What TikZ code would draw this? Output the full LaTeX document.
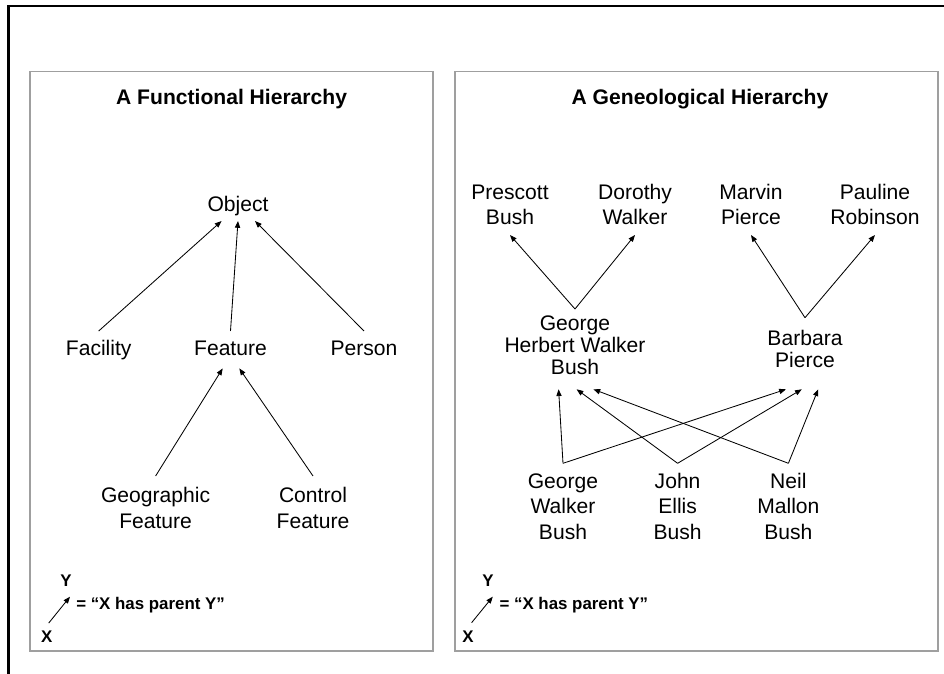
\documentclass[tikz,border=0pt]{standalone}
\usepackage{fontspec}
\setmainfont{Liberation Sans}
\usetikzlibrary{arrows.meta}

\begin{document}
\begin{tikzpicture}[
        % Estilo para los marcos de cada jerarquía
        panel/.style={draw=gray!75, line width=0.8pt},
        % Estilo para los títulos de los marcos
        heading/.style={font=\fontsize{15}{18}\selectfont\bfseries, anchor=base, inner sep=0pt},
        % Estilo para los nombres (base = línea base de la última línea)
        entity/.style={font=\fontsize{15}{18.1}\selectfont, align=center, anchor=base, inner sep=0pt},
        % Nombres con interlineado más estrecho
        tightname/.style={font=\fontsize{15}{15.6}\selectfont},
        % Estilo para las flechas "tiene padre"
        hasparent/.style={-{Triangle[length=1.7mm,width=1.3mm]}, line width=0.6pt},
        % Estilo para la leyenda
        legendtext/.style={font=\fontsize{12}{14}\selectfont\bfseries, anchor=base, inner sep=0pt}
    ]
        \useasboundingbox (0,0) rectangle (23.6,16.85);

        % --- Marco exterior (solo se ven los bordes superior e izquierdo) ---
        \draw[line width=1.6pt] (0.2125,0) -- (0.2125,16.7) -- (23.6,16.7);

        % --- Marcos de las dos jerarquías ---
        \draw[panel] (0.75,0.575) rectangle (10.825,15.0625);
        \draw[panel] (11.375,0.575) rectangle (23.45,15.0625);

        % --- Títulos ---
        \node[heading] (T1) at (5.79,14.225) {A Functional Hierarchy};
        \node[heading] (T2) at (17.5,14.225) {A Geneological Hierarchy};

        % --- Jerarquía funcional ---
        \node[entity] (obj) at (5.95,11.55) {Object};
        \node[entity] (fac) at (2.4675,7.95) {Facility};
        \node[entity] (fea) at (5.7625,7.95) {Feature};
        \node[entity] (per) at (9.1,7.95) {Person};
        \node[entity] (geo) at (3.89,3.6425) {Geographic\\Feature};
        \node[entity] (ctl) at (7.825,3.6425) {Control\\Feature};

        % Flechas hacia Object
        \draw[hasparent] ([yshift=0.625cm]fac.base) -- ([xshift=-0.41cm,yshift=-0.225cm]obj.base);
        \draw[hasparent] ([yshift=0.625cm]fea.base) -- ([yshift=-0.225cm]obj.base);
        \draw[hasparent] ([yshift=0.625cm]per.base) -- ([xshift=0.425cm,yshift=-0.225cm]obj.base);
        % Flechas hacia Feature
        \draw[hasparent] ([yshift=1.3075cm]geo.base) -- ([xshift=-0.195cm,yshift=-0.31cm]fea.base);
        \draw[hasparent] ([yshift=1.3075cm]ctl.base) -- ([xshift=0.22cm,yshift=-0.31cm]fea.base);

        % --- Jerarquía genealógica ---
        % Abuelos
        \node[entity] (pb) at (12.75,11.225) {Prescott\\Bush};
        \node[entity] (dw) at (15.875,11.225) {Dorothy\\Walker};
        \node[entity] (mp) at (18.775,11.225) {Marvin\\Pierce};
        \node[entity] (pr) at (21.875,11.225) {Pauline\\Robinson};
        % Padres
        \node[entity, tightname] (ghwb) at (14.375,7.4925) {George\\Herbert Walker\\Bush};
        \node[entity, tightname] (bp) at (20.125,7.6575) {Barbara\\Pierce};
        % Hijos
        \node[entity] (gwb) at (14.075,3.3675) {George\\Walker\\Bush};
        \node[entity] (jeb) at (16.94,3.3675) {John\\Ellis\\Bush};
        \node[entity] (nmb) at (19.71,3.3675) {Neil\\Mallon\\Bush};

        % Flechas hacia los abuelos
        \draw[hasparent] ([yshift=1.6325cm]ghwb.base) -- ([yshift=-0.25cm]pb.base);
        \draw[hasparent] ([yshift=1.6325cm]ghwb.base) -- ([yshift=-0.25cm]dw.base);
        \draw[hasparent] ([yshift=1.25cm]bp.base) -- ([yshift=-0.25cm]mp.base);
        \draw[hasparent] ([yshift=1.25cm]bp.base) -- ([yshift=-0.25cm]pr.base);

        % Flechas hacia los padres
        \draw[hasparent] ([yshift=1.9cm]gwb.base) -- ([xshift=-0.41cm,yshift=-0.375cm]ghwb.base);
        \draw[hasparent] ([yshift=1.9cm]gwb.base) -- ([xshift=-0.475cm,yshift=-0.54cm]bp.base);
        \draw[hasparent] ([yshift=1.9cm]jeb.base) -- ([xshift=0.04cm,yshift=-0.375cm]ghwb.base);
        \draw[hasparent] ([yshift=1.9cm]jeb.base) -- ([xshift=-0.08cm,yshift=-0.54cm]bp.base);
        \draw[hasparent] ([yshift=1.9cm]nmb.base) -- ([xshift=0.46cm,yshift=-0.375cm]ghwb.base);
        \draw[hasparent] ([yshift=1.9cm]nmb.base) -- ([xshift=0.33cm,yshift=-0.54cm]bp.base);

        % --- Leyendas ---
        \node[legendtext] (Y1) at (1.65,2.1825) {Y};
        \node[legendtext] (X1) at (1.1675,0.7825) {X};
        \node[legendtext, anchor=base west] (L1) at (1.9,1.6) {= “X has parent Y”};
        \draw[hasparent] ([xshift=0.05cm,yshift=0.49cm]X1.base) -- ([xshift=0.1cm,yshift=-0.25cm]Y1.base);

        \node[legendtext] (Y2) at (12.2,2.1825) {Y};
        \node[legendtext] (X2) at (11.7,0.7825) {X};
        \node[legendtext, anchor=base west] (L2) at (12.4825,1.6) {= “X has parent Y”};
        \draw[hasparent] ([xshift=0.09cm,yshift=0.5cm]X2.base) -- ([xshift=0.12cm,yshift=-0.25cm]Y2.base);

    \end{tikzpicture}
\end{document}
